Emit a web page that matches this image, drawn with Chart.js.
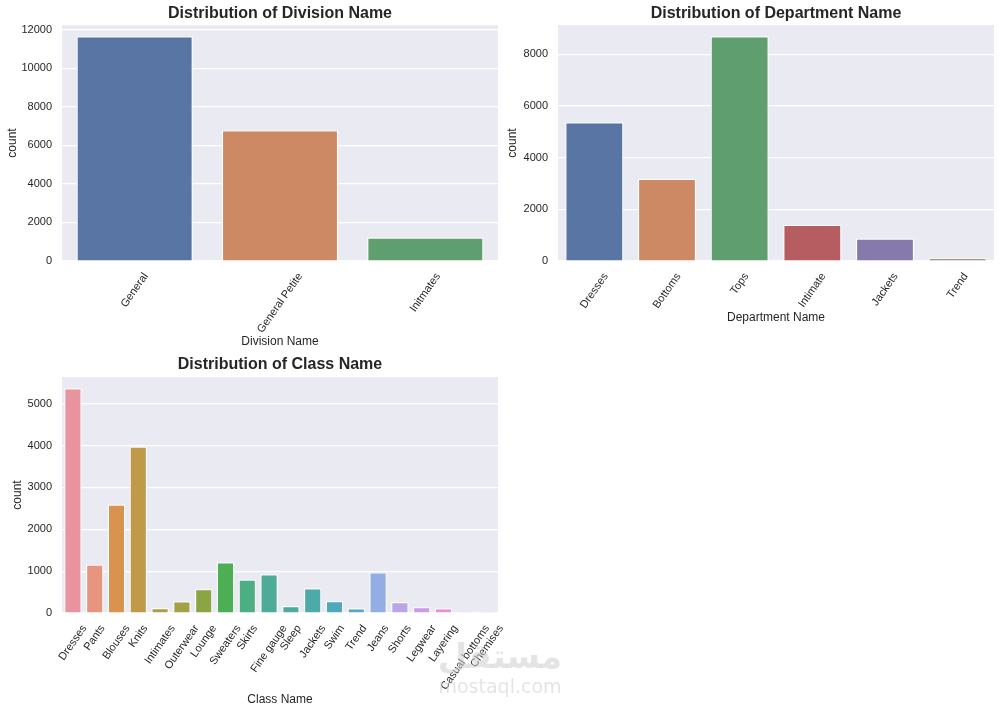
<!DOCTYPE html>
<html>
<head>
<meta charset="utf-8">
<script src="https://cdn.jsdelivr.net/npm/chart.js@4"></script>
<style>
    body { margin: 0; background: #fff; width: 1000px; height: 712px; position: relative; overflow: hidden; }
    .box { position: absolute; }
    .mark { position: absolute; color: rgba(205, 205, 205, 0.55); font-family: "DejaVu Sans", sans-serif; font-weight: bold; text-align: center; }
</style>
</head>
<body>
<div class="box" style="left:0;top:0;width:500px;height:350px"><canvas id="divChart"></canvas></div>
<div class="box" style="left:500px;top:0;width:500px;height:350px"><canvas id="deptChart"></canvas></div>
<div class="box" style="left:0;top:350px;width:520px;height:362px"><canvas id="classChart"></canvas></div>
<div class="mark" style="left:430px;top:636px;width:140px;font-size:34px;line-height:40px">مستقل</div>
<div class="mark" style="left:430px;top:674px;width:140px;font-size:19px;line-height:24px;font-weight:normal">mostaql.com</div>
<script>
// Division counts
const divisions = ['General', 'General Petite', 'Initmates'];
const divisionCounts = [11664, 6778, 1220];
const divisionTicks = [0, 2000, 4000, 6000, 8000, 10000, 12000];

// Department counts
const departments = ['Dresses', 'Bottoms', 'Tops', 'Intimate', 'Jackets', 'Trend'];
const departmentCounts = [5370, 3185, 8700, 1400, 870, 110];
const departmentTicks = [0, 2000, 4000, 6000, 8000];

// Class counts
const classes = ['Dresses', 'Pants', 'Blouses', 'Knits', 'Intimates', 'Outerwear', 'Lounge', 'Sweaters', 'Skirts',
    'Fine gauge', 'Sleep', 'Jackets', 'Swim', 'Trend', 'Jeans', 'Shorts', 'Legwear', 'Layering', 'Casual bottoms', 'Chemises'];
const classCounts = [5371, 1160, 2590, 3980, 120, 280, 570, 1210, 800,
    925, 165, 590, 285, 115, 970, 260, 140, 115, 1, 1];
const classTicks = [0, 1000, 2000, 3000, 4000, 5000];

const deepColors = ['#5975a4', '#cc8963', '#5f9e6e', '#b55d60', '#857aab', '#8d7866'];
const huslColors = ['#e8949e', '#e8957f', '#d8944f', '#c09a4a', '#b49c46', '#a2a145', '#8ba544', '#4cae55', '#4caf83', '#4dab98',
    '#4cab9f', '#4daaa9', '#4fa9bd', '#55a6c9', '#93aee5', '#b8a6e9', '#cd9be5', '#e390e1', '#e591cb', '#e893b3'];

const FONT = '"Liberation Sans", Arial, sans-serif';
const TEXT = '#262626';

// Background of plot area + title + rotated x labels (matplotlib style, centred on tick)
const seabornLook = {
    id: 'seabornLook',
    beforeDraw(chart) {
        const a = chart.chartArea;
        const ctx = chart.ctx;
        ctx.save();
        ctx.fillStyle = '#eaeaf2';
        ctx.fillRect(a.left, a.top, a.right - a.left, a.bottom - a.top);
        ctx.restore();
    },
    afterDraw(chart, args, opts) {
        const a = chart.chartArea;
        const ctx = chart.ctx;
        const scale = chart.scales.x;
        ctx.save();
        ctx.fillStyle = TEXT;
        ctx.font = 'bold 16px ' + FONT;
        ctx.textAlign = 'center';
        ctx.textBaseline = 'middle';
        ctx.fillText(opts.title, (a.left + a.right) / 2, opts.titleY);

        const ang = 55 * Math.PI / 180;
        ctx.font = '11px ' + FONT;
        chart.data.labels.forEach((lab, i) => {
            const w = ctx.measureText(lab).width;
            const H = w * Math.sin(ang) + 11 * Math.cos(ang);
            ctx.save();
            ctx.translate(scale.getPixelForValue(i), a.bottom + 10 + H / 2);
            ctx.rotate(-ang);
            ctx.fillText(lab, 0, 0);
            ctx.restore();
        });
        ctx.restore();
    }
};

function makeChart(id, labels, values, colors, tickValues, opt) {
    const ctx = document.getElementById(id).getContext('2d');
    return new Chart(ctx, {
        type: 'bar',
        data: {
            labels: labels,
            datasets: [{
                data: values,
                backgroundColor: colors,
                borderColor: '#ffffff',
                borderWidth: 1.2,
                barPercentage: 0.8,
                categoryPercentage: 1.0
            }]
        },
        plugins: [seabornLook],
        options: {
            responsive: true,
            maintainAspectRatio: false,
            animation: false,
            layout: { padding: opt.padding },
            plugins: {
                legend: { display: false },
                tooltip: { enabled: false },
                title: { display: false },
                seabornLook: { title: opt.title, titleY: opt.titleY }
            },
            scales: {
                x: {
                    grid: { display: false },
                    border: { display: false },
                    ticks: { display: false },
                    title: { display: true, text: opt.xTitle, color: TEXT, font: { family: FONT, size: 12 }, padding: { top: 0, bottom: 1 } },
                    afterFit(s) { s.height = opt.xHeight; }
                },
                y: {
                    min: 0,
                    max: Math.max(...values) * 1.05,
                    grid: { color: '#ffffff', lineWidth: 1.2, drawTicks: false },
                    border: { display: false },
                    ticks: { padding: 10, color: TEXT, font: { family: FONT, size: 11 }, callback: v => String(v) },
                    title: { display: true, text: 'count', color: TEXT, font: { family: FONT, size: 12 }, padding: { top: opt.yTitlePad, bottom: 0 } },
                    afterBuildTicks(s) { s.ticks = tickValues.map(v => ({ value: v })); },
                    afterFit(s) { s.width = opt.yWidth; }
                }
            }
        }
    });
}

makeChart('divChart', divisions, divisionCounts, deepColors.slice(0, 3), divisionTicks, {
    title: 'Distribution of Division Name', titleY: 13.5, xTitle: 'Division Name',
    padding: { top: 25, right: 2, bottom: 0, left: 0 }, xHeight: 89, yWidth: 62, yTitlePad: 5
});

makeChart('deptChart', departments, departmentCounts, deepColors, departmentTicks, {
    title: 'Distribution of Department Name', titleY: 13.5, xTitle: 'Department Name',
    padding: { top: 25, right: 6, bottom: 24, left: 0 }, xHeight: 65, yWidth: 58, yTitlePad: 5
});

makeChart('classChart', classes, classCounts, huslColors, classTicks, {
    title: 'Distribution of Class Name', titleY: 15, xTitle: 'Class Name',
    padding: { top: 27, right: 22, bottom: 4, left: 0 }, xHeight: 95, yWidth: 62, yTitlePad: 10
});
</script>
</body>
</html>
